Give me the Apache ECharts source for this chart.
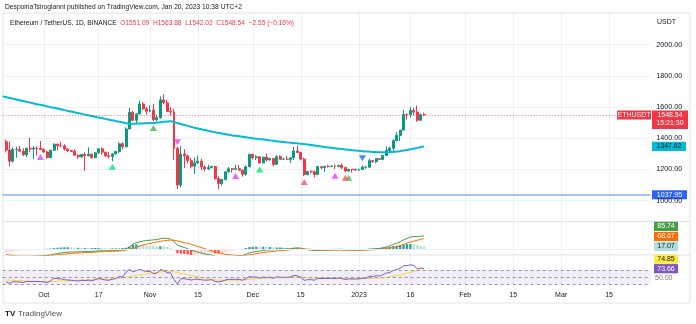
<!DOCTYPE html>
<html><head><meta charset="utf-8">
<script src="https://cdn.jsdelivr.net/npm/echarts@6/dist/echarts.min.js"></script>
<style>html,body{margin:0;padding:0;background:#fff}#c{width:696px;height:324px}</style>
</head><body><div id="c"></div>
<script>
// ---------- DATA ----------
// daily candles, 2022-09-20 .. 2023-01-20
const candleStart = '2022-09-20';
const open = [
 1377.5,1323.7,1252.6,1327.7,1328.7,1316.8,1294.2,1335.3,1330.4,1336.4,1335.8,
 1327.6,1311.6,1276.1,1323.3,1362.0,1352.2,1351.7,1330.9,1320.9,1315.8,1291.4,1280.3,1295.1,1288.2,1297.0,1274.9,1306.0,1331.6,1310.6,1287.4,1282.2,1299.4,1314.6,1364.5,1344.4,1459.4,1566.5,1514.5,1555.4,1619.4,1588.9,
 1572.3,1579.8,1519.1,1531.3,1645.3,1627.4,1570.8,1568.1,1333.6,1100.0,1298.7,1288.0,1256.2,1220.3,1241.7,1252.8,1216.3,1202.7,1211.8,1218.3,1141.2,1108.4,1135.3,1184.2,1204.1,1200.8,1205.4,1194.6,1169.1,1217.2,
 1295.7,1275.3,1280.3,1241.3,1279.1,1260.8,1270.4,1232.3,1281.2,1264.6,1265.1,1263.9,1274.6,1318.6,1309.0,1265.6,1167.5,1187.2,1185.4,1167.6,1217.7,1212.4,1219.6,1219.0,1220.6,1219.6,1226.5,1212.7,1189.6,1200.8,1198.5,
 1195.8,1200.0,1214.2,1214.5,1256.2,1250.8,1269.1,1264.0,1288.5,1321.3,1335.9,1384.2,1418.0,1451.8,1551.2,1551.0,1577.0,1567.3,1515.0,1551.09];
const close = [
 1323.7,1252.6,1327.7,1328.7,1316.8,1294.2,1335.3,1330.4,1336.4,1335.8,1327.6,
 1311.6,1276.1,1323.3,1362.0,1352.2,1351.7,1330.9,1320.9,1315.8,1291.4,1280.3,1295.1,1288.2,1297.0,1274.9,1306.0,1331.6,1310.6,1287.4,1282.2,1299.4,1314.6,1364.5,1344.4,1459.4,1566.5,1514.5,1555.4,1619.4,1588.9,1572.3,
 1579.8,1519.1,1531.3,1645.3,1627.4,1570.8,1568.1,1333.6,1100.0,1298.7,1288.0,1256.2,1220.3,1241.7,1252.8,1216.3,1202.7,1211.8,1218.3,1141.2,1108.4,1135.3,1184.2,1204.1,1200.8,1205.4,1194.6,1169.1,1217.2,1295.7,
 1275.3,1280.3,1241.3,1279.1,1260.8,1270.4,1232.3,1281.2,1264.6,1265.1,1263.9,1274.6,1318.6,1309.0,1265.6,1167.5,1187.2,1185.4,1167.6,1217.7,1212.4,1219.6,1219.0,1220.6,1219.6,1226.5,1212.7,1189.6,1200.8,1198.5,1195.8,
 1200.0,1214.2,1214.5,1256.2,1250.8,1269.1,1264.0,1288.5,1321.3,1335.9,1384.2,1418.0,1451.8,1551.2,1551.0,1577.0,1567.3,1515.0,1551.09,1548.54];
const high = [
 1390,1378,1340,1345,1350,1335,1339,1402,1349,1347,1382,
 1336,1319,1326,1366,1365,1378,1362,1336,1325,1328,1296,1300,1310,1341,1301,1311,1336,1341,1313,1313,1303,1318,1373,1374,1470,1593,1575,1560,1642,1632,1600,
 1610,1620,1551,1668,1680,1644,1598,1587,1346,1349,1330,1292,1274,1276,1287,1268,1225,1230,1224,1224,1155,1137,1188,1215,1209,1230,1228,1198,1225,1302,
 1300,1291,1285,1280,1302,1275,1272,1290,1291,1276,1286,1277,1344,1352,1311,1275,1189,1194,1193,1222,1220,1222,1229,1226,1230,1226,1239,1214,1203,1203,1206,
 1205,1225,1220,1269,1259,1270,1271,1289,1348,1346,1393,1440,1452,1582,1559,1601,1594,1610,1558,1563.88];
const low = [
 1309,1220,1244,1275,1313,1286,1279,1310,1266,1289,1324,
 1306,1269,1271,1318,1322,1343,1320,1311,1311,1288,1268,1276,1190,1284,1270,1272,1302,1294,1281,1271,1253,1296,1304,1329,1342,1456,1509,1490,1553,1580,1551,
 1566,1510,1510,1525,1616,1570,1545,1261,1072,1085,1209,1240,1206,1171,1235,1196,1188,1196,1206,1135,1073,1095,1130,1180,1180,1195,1193,1154,1160,1213,
 1263,1260,1240,1240,1250,1256,1219,1229,1259,1262,1262,1241,1260,1304,1258,1157,1162,1174,1150,1163,1202,1185,1212,1216,1202,1213,1202,1181,1186,1180,1192,
 1191,1195,1204,1209,1241,1239,1262,1262,1287,1314,1320,1382,1383,1448,1520,1532,1546,1505,1513,1542.02];

// moving average (cyan), 2022-09-19 .. 2023-01-20
const maStart = '2022-09-19';
const maLine = [
 1668,1663,1658,1653,1648,1643,1638,1633,1628,1623,1618,1614,
 1609,1604,1599,1595,1590,1585,1580,1575,1571,1566,1561,1556,1551,1547,1542,1537,1533,1528,1524,1519,1515,1510,1505,1500,1496,1493,1492,1493,1494,1495,1496,
 1497,1498,1500,1502,1505,1507,1508,1504,1497,1491,1485,1479,1473,1467,1462,1457,1452,1447,1443,1438,1434,1430,1426,1422,1418,1415,1412,1409,1406,1403,
 1400,1397,1394,1392,1389,1386,1383,1380,1378,1375,1373,1371,1369,1367,1365,1362,1359,1356,1353,1350,1347,1344,1341,1338,1336,1333,1331,1328,1326,1323,1321,
 1319,1317,1315,1314,1312,1311,1310,1310,1310,1311,1312,1314,1317,1321,1325,1329,1334,1338,1343,1347.62];

const supportLevel = 1037.95;
const symbolName = 'ETHUSDT';
const countdown = '15:21:30';

// signal markers [date, price]
const purpleUpDates = ['2022-09-30','2022-11-26','2022-12-25'];
const purpleUpPrices = [1280,1158,1160];
const limeUpDates = ['2022-10-21','2022-12-03'];
const limeUpPrices = [1217,1200];
const greenUpDates = ['2022-11-02','2022-12-29'];
const greenUpPrices = [1465,1147];
const redUpDates = ['2022-12-16','2022-12-28'];
const redUpPrices = [1119,1147];
const magentaDownDates = ['2022-11-09'];
const magentaDownPrices = [1374];
const blueDownDates = ['2023-01-02'];
const blueDownPrices = [1271];

// MACD pane, 2022-09-20 .. 2023-01-20
const macdLine = [
 -55,-58,-57,-55,-53,-52,-51,-50,-48.5,-47.5,-46,
 -43.5,-41.5,-39,-34,-30,-26,-23,-21,-20,-20,-19,-18,-17,-17,-16,-14,-12,-12,-12,-12,-11,-10,-9,-4,0,14,32,42,48,53,56,
 58,60,62,68,71,70,66,50,25,18,10,2,-8,-15,-20,-27,-33,-37,-40,-48,-55,-58,-57,-54,-51,-48,-46,-43,-35,-26,
 -21,-16,-14,-10,-8,-5,-6,-3,-1,0,1,2,5,7,6,1,-5,-8,-11,-10,-9,-8,-7,-7,-6,-5,-5,-7,-7,-8,-8,
 -8,-7,-6,-3,-1,2,4,8,14,21,30,38,47,60,70,78,83,82,84,85.74];
const signalLine = [
 -35,-40,-43,-45,-46,-47,-47,-47,-46.5,-46,-45,
 -44,-43,-42,-40,-38,-36,-34,-32,-30,-28,-27,-25,-24,-23,-22,-21,-19,-18,-17,-16,-15,-14,-13,-11,-8,-2,5,12,19,26,32,
 37,42,46,50,54,57,59,58,53,48,43,38,31,24,16,9,2,-5,-12,-19,-25,-30,-35,-38,-40,-42,-43,-43,-42,-39,
 -35,-31,-28,-24,-21,-18,-16,-13,-11,-9,-7,-5,-3,-1,0,0,-1,-2,-4,-5,-6,-6.5,-7,-7,-7,-6.5,-6.5,-6.5,-6.5,-7,-7,
 -7,-7,-7,-6,-5,-4,-2,0,3,7,11,16,22,30,38,45,52,58,63,68.67];
const histogram = [
 -20,-18,-14,-10,-7,-5,-4,-3,-2,-1.5,-1,
 0.5,1.5,3,6,8,10,11,11,10,8,8,7,7,6,6,7,7,6,5,4,4,4,4,7,8,16,27,30,29,27,24,
 21,18,16,18,17,13,7,-8,-28,-30,-33,-36,-39,-39,-36,-36,-35,-32,-28,-29,-30,-28,-22,-16,-11,-6,-3,0.5,7,13,
 14,15,14,14,13,13,10,10,10,9,8,7,8,8,6,1,-4,-6,-7,-5,-3,-1.5,-0.5,0.5,1,1.5,1.5,-0.5,-0.5,-1,-1,
 -1,0.5,1,3,4,6,6,8,11,14,19,22,25,30,32,33,31,24,21,17.07];

// RSI pane, 2022-09-20 .. 2023-01-20
const rsiLine = [
 37,33,37,37,36.5,35,38,37.5,38,38,37.5,
 36.5,35,40,47,45.5,45.5,43,42,41.5,40,39,41,40.5,41.5,39.5,43,46.5,44,42,41.5,44,46,52,50,64,72,65,68,72,68,66,
 66.5,60,61,71,69,62,62,43,31,46,45.5,44,42,43.5,44.5,42.5,41.5,42,43,38,36.5,38.5,42,44,43.5,44,43.5,41.5,45.5,51.5,
 50,50.5,47.5,50.5,49,50,47,51,49.5,49.5,49.5,50.5,55,54,49.5,41,43,43,41.5,46.5,46,46.5,46.5,46.5,46.5,47.5,46,43.5,45,45,44.5,
 45.5,47,47,52.5,52,54,53.5,57,61.5,63,68.5,71.5,74.5,82,82,84.5,83,72.5,75.5,73.66];
const rsiMa = [
 42,41.5,41,40.5,40,39.5,39,38.5,38,37.8,37.5,
 37.3,37,37.2,37.8,38.3,38.8,39.3,39.8,40.3,40.8,41.3,41.8,42.5,43,43.5,44,44.5,44.8,45,45.2,45.5,46,46.5,48,50,51.5,53,55,56.5,58,59.5,
 61,62,63,64.5,65.5,66,66,64.5,62,60.5,59,57,55,53,51,49,47,45.5,44,42.5,41.5,41.5,41.5,41.5,41.5,41.5,41.8,42.2,43,44,
 44.8,45.5,46,46.5,47,47.5,48,48.5,49,49.3,49.5,49.8,50,50.2,50,49.5,49,48.5,48,47.7,47.5,47.3,47,46.8,46.5,46.3,46,45.8,45.6,45.5,45.4,
 45.4,45.5,45.6,46,46.5,47,47.5,48.5,49.5,51,52.5,54,56,58.5,61,63.5,66,68.5,71,74.85];
const rsiLevels = [70, 50, 30];

// time axis
const axisFirstDay = '2022-09-19', axisLastDay = '2023-03-27';
const tickDates = ['2022-10-01','2022-10-17','2022-11-01','2022-11-15','2022-12-01','2022-12-15','2023-01-01','2023-01-16','2023-02-01','2023-02-15','2023-03-01','2023-03-15'];
const tickLabels = ['Oct','17','Nov','15','Dec','15','2023','16','Feb','15','Mar','15'];
const priceTicks = [1000,1200,1400,1600,1800,2000];

// ---------- CHART ----------
const FONT = '"Liberation Sans", Arial, sans-serif';
const TXT = '#131722', GRID = '#eef0f5', UP = '#089981', DOWN = '#f23645';

const categories = [];
{
  const a = Date.parse(axisFirstDay + 'T00:00:00Z'), b = Date.parse(axisLastDay + 'T00:00:00Z');
  for (let t = a; t <= b; t += 86400000) categories.push(new Date(t).toISOString().slice(0, 10));
}
const c0 = categories.indexOf(candleStart), m0 = categories.indexOf(maStart);
const candleData = open.map((o, i) => [c0 + i, o, close[i], low[i], high[i]]);
const pair = (arr, s) => arr.map((v, i) => [s + i, v]);
const pts = (d, p) => d.map((x, i) => [x, p[i]]);
const isTick = (i, v) => tickDates.indexOf(v) >= 0;

const chart = echarts.init(document.getElementById('c'), null, {renderer: 'canvas'});
const L = 2.7, R = 45.8;
const hidX = (g) => ({type: 'category', gridIndex: g, data: categories, boundaryGap: false, show: false});
const hidY = (g, mn, mx) => ({type: 'value', gridIndex: g, min: mn, max: mx, show: false, splitLine: {show: false}});

function histColor(p) {
  const i = p.dataIndex, v = histogram[i], pv = i > 0 ? histogram[i - 1] : v;
  if (v >= 0) return v >= pv ? '#26a69a' : '#b2dfdb';
  return v < pv ? '#ff5252' : '#ffcdd2';
}
const tri = (name, d, p, color, down) => ({
  name, type: 'scatter', xAxisIndex: 1, yAxisIndex: 1, data: pts(d, p),
  symbol: 'triangle', symbolSize: [7, 6], symbolRotate: down ? 180 : 0,
  itemStyle: {color}, z: 5
});

chart.setOption({
  animation: false,
  textStyle: {fontFamily: FONT},
  grid: [
    {left: L, right: R, top: 13, height: 275},
    {left: L, right: R, top: 13.4, height: 218.4},
    {left: L, right: R, top: 222, height: 33},
    {left: L, right: R, top: 255, height: 33}
  ],
  xAxis: [
    {type: 'category', gridIndex: 0, data: categories, boundaryGap: false,
     axisLine: {show: false}, axisTick: {show: false},
     axisLabel: {interval: isTick, formatter: v => tickLabels[tickDates.indexOf(v)], color: TXT, fontSize: 7, margin: 4, fontFamily: FONT},
     splitLine: {show: true, interval: isTick, lineStyle: {color: GRID, width: 1}}},
    hidX(1), hidX(2), hidX(3)
  ],
  yAxis: [
    hidY(0, 0, 1),
    {type: 'value', gridIndex: 1, position: 'right', min: 800, max: 2200, interval: 200,
     axisLine: {show: false}, axisTick: {show: false},
     axisLabel: {formatter: v => priceTicks.indexOf(v) >= 0 ? v.toFixed(2) : '', color: TXT, fontSize: 7.2, margin: 6, fontFamily: FONT},
     splitLine: {show: true, showMinLine: false, showMaxLine: false, lineStyle: {color: GRID, width: 1}}},
    hidY(2, -39.6, 178.2),
    hidY(3, 19.6, 112)
  ],
  series: [
    {name: 'ETHUSDT', type: 'candlestick', xAxisIndex: 1, yAxisIndex: 1,
     dimensions: ['idx', 'open', 'close', 'lowest', 'highest'],
     encode: {x: 'idx', y: ['open', 'close', 'lowest', 'highest']},
     data: candleData, barWidth: '72%',
     itemStyle: {color: UP, color0: DOWN, borderColor: UP, borderColor0: DOWN, borderWidth: 1},
     markLine: {symbol: 'none', silent: true, label: {show: false},
       data: [
         {yAxis: supportLevel, lineStyle: {color: 'rgba(41,98,255,0.4)', width: 2, type: 'solid'}},
         {yAxis: close[close.length - 1], lineStyle: {color: 'rgba(242,54,69,0.7)', width: 1, type: [1, 2]}}
       ]}, z: 3},
    {name: 'MA', type: 'line', xAxisIndex: 1, yAxisIndex: 1, data: pair(maLine, m0),
     showSymbol: false, smooth: 0.3, lineStyle: {color: '#00bcd4', width: 2}, z: 4},
    tri('p', purpleUpDates, purpleUpPrices, '#e040fb', false),
    tri('l', limeUpDates, limeUpPrices, '#00e676', false),
    tri('g', greenUpDates, greenUpPrices, '#4caf50', false),
    tri('r', redUpDates, redUpPrices, '#f7525f', false),
    tri('m', magentaDownDates, magentaDownPrices, '#e040fb', true),
    tri('b', blueDownDates, blueDownPrices, '#2962ff', true),
    {name: 'Hist', type: 'bar', xAxisIndex: 2, yAxisIndex: 2, data: pair(histogram, c0),
     barWidth: '70%', itemStyle: {color: histColor},
     markLine: {symbol: 'none', silent: true, label: {show: false}, data: [{yAxis: 0}], lineStyle: {color: GRID, width: 1, type: 'solid'}}},
    {name: 'MACD', type: 'line', xAxisIndex: 2, yAxisIndex: 2, data: pair(macdLine, c0), showSymbol: false,
     lineStyle: {color: '#43a047', width: 1}, z: 4},
    {name: 'Signal', type: 'line', xAxisIndex: 2, yAxisIndex: 2, data: pair(signalLine, c0), showSymbol: false,
     lineStyle: {color: '#ff6d00', width: 1}, z: 4},
    {name: 'RSI', type: 'line', xAxisIndex: 3, yAxisIndex: 3, data: pair(rsiLine, c0), showSymbol: false,
     lineStyle: {color: '#7e57c2', width: 1}, z: 4,
     markArea: {silent: true, itemStyle: {color: 'rgba(126,87,194,0.1)'}, data: [[{yAxis: rsiLevels[2]}, {yAxis: rsiLevels[0]}]]},
     markLine: {symbol: 'none', silent: true, label: {show: false}, lineStyle: {color: '#9598a1', width: 1, type: [3, 3]},
       data: rsiLevels.map(v => ({yAxis: v}))}},
    {name: 'RSI MA', type: 'line', xAxisIndex: 3, yAxisIndex: 3, data: pair(rsiMa, c0), showSymbol: false,
     lineStyle: {color: '#fdd835', width: 1}, z: 3}
  ]
});

// ---------- overlays (positions from the axes) ----------
const py = (axis, v) => chart.convertToPixel({yAxisIndex: axis}, v);
const T = (x, y, text, opt) => Object.assign({type: 'text', x, y,
  style: Object.assign({text, fill: TXT, fontSize: 7, fontFamily: FONT, align: 'left', verticalAlign: 'middle'}, opt || {})});
const box = (x, y, w, h, fill, text, tc) => ({type: 'group', children: [
  {type: 'rect', shape: {x, y, width: w, height: h}, style: {fill}},
  {type: 'text', x: x + w / 2, y: y + h / 2, style: {text, fill: tc, fontSize: 7, fontFamily: FONT, align: 'center', verticalAlign: 'middle'}}
]});
function stackLabels(items, h) { // place bottom-up without overlap
  items.sort((a, b) => b.y - a.y);
  for (let i = 1; i < items.length; i++) items[i].y = Math.min(items[i].y, items[i - 1].y - h);
  return items;
}
const n = close.length - 1;
const chg = close[n] - close[n - 1], pct = chg / close[n - 1] * 100;
const sg = v => (v < 0 ? '−' : '+') + Math.abs(v).toFixed(2);

const g = [];
g.push({type: 'rect', shape: {x: 3, y: 13, width: 687, height: 290}, style: {fill: 'none', stroke: '#e0e3eb', lineWidth: 1}});
g.push({type: 'line', shape: {x1: 3, y1: 221.5, x2: 690, y2: 221.5}, style: {stroke: '#e0e3eb', lineWidth: 1}});
g.push({type: 'line', shape: {x1: 3, y1: 255, x2: 690, y2: 255}, style: {stroke: '#e0e3eb', lineWidth: 1}});
g.push(T(5, 7.5, 'DespoinaTsiroglanni published on TradingView.com, Jan 20, 2023 10:38 UTC+2', {fontSize: 6.7}));
g.push({type: 'text', x: 10, y: 23, style: {
  text: '{n|Ethereum / TetherUS, 1D, BINANCE}  {r|O' + open[n].toFixed(2) + '}  {r|H' + high[n].toFixed(2) + '}  {r|L' + low[n].toFixed(2) +
        '}  {r|C' + close[n].toFixed(2) + '}  {r|' + sg(chg) + ' (' + sg(pct) + '%)}',
  fontSize: 6.6, fontFamily: FONT, verticalAlign: 'middle',
  rich: {n: {fill: TXT, fontSize: 6.6, fontFamily: FONT}, r: {fill: DOWN, fontSize: 6.6, fontFamily: FONT}}}});
g.push(T(657, 22, 'USDT'));
// main price scale labels
const yLast = py(1, close[n]);
g.push(box(617, yLast - 4.5, 34, 9, DOWN, symbolName, '#fff'));
g.push({type: 'group', children: [
  {type: 'rect', shape: {x: 652, y: yLast - 4.5, width: 36, height: 18.5}, style: {fill: DOWN}},
  {type: 'text', x: 670, y: yLast, style: {text: close[n].toFixed(2), fill: '#fff', fontSize: 7, fontFamily: FONT, align: 'center', verticalAlign: 'middle'}},
  {type: 'text', x: 670, y: yLast + 8.5, style: {text: countdown, fill: '#fff', fontSize: 7, fontFamily: FONT, align: 'center', verticalAlign: 'middle'}}
]});
const maLast = maLine[maLine.length - 1];
const yMa = py(1, maLast);
g.push(box(652, yMa - 4.6, 34, 9.2, '#00bcd4', maLast.toFixed(2), TXT));
const ySup = py(1, supportLevel);
g.push(box(652, ySup - 4.5, 35, 9, '#2962ff', supportLevel.toFixed(2), '#fff'));
// MACD pane labels
const mItems = stackLabels([
  {y: py(2, macdLine[n]), v: macdLine[n], bg: '#43a047', tc: '#fff'},
  {y: py(2, signalLine[n]), v: signalLine[n], bg: '#ff6d00', tc: '#fff'},
  {y: py(2, histogram[n]), v: histogram[n], bg: '#b2dfdb', tc: TXT}
], 10);
mItems.forEach(it => g.push(box(654, it.y - 4.6, 24, 9.2, it.bg, it.v.toFixed(2), it.tc)));
// RSI pane labels
const rItems = stackLabels([
  {y: py(3, rsiMa[n]), v: rsiMa[n], bg: '#ffeb3b', tc: TXT},
  {y: py(3, rsiLine[n]), v: rsiLine[n], bg: '#7e57c2', tc: '#fff'}
], 9.5);
rItems.forEach(it => g.push(box(654, it.y - 4.6, 24, 9.2, it.bg, it.v.toFixed(2), it.tc)));
g.push(T(655, py(3, rsiLevels[1]) + 0.5, rsiLevels[1].toFixed(2), {fill: '#787b86'}));
// footer logo
g.push(T(5, 314, 'TV', {fontSize: 8, fontWeight: 'bold', fill: TXT}));
g.push(T(18, 314, 'TradingView', {fontSize: 8, fill: '#4a4e59'}));

chart.setOption({graphic: {elements: g}});
</script></body></html>
